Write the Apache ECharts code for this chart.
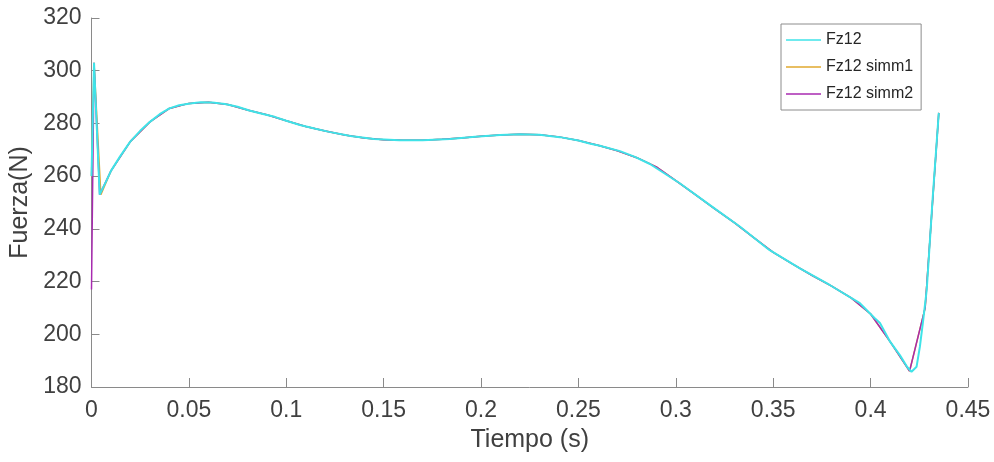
<!DOCTYPE html>
<html>
<head>
<meta charset="utf-8">
<script src="https://cdn.jsdelivr.net/npm/echarts@6/dist/echarts.min.js"></script>
<style>html,body{margin:0;padding:0;background:#fff}#c{width:994px;height:462px}</style>
</head>
<body>
<div id="c"></div>
<script>
// Fz12 (cyan)
var fzT = [0, 0.0013, 0.0042, 0.0075, 0.010, 0.0146, 0.0198, 0.025, 0.030, 0.035, 0.040, 0.045, 0.0506, 0.056, 0.062, 0.0685, 0.075, 0.081, 0.0875, 0.094, 0.100, 0.107, 0.115, 0.122, 0.133, 0.145, 0.158, 0.170, 0.184, 0.197, 0.2097, 0.220, 0.230, 0.2405, 0.250, 0.2557, 0.261, 0.2713, 0.2790, 0.2867, 0.302, 0.3175, 0.333, 0.348, 0.3637, 0.379, 0.3945, 0.402, 0.4048, 0.410, 0.415, 0.4188, 0.421, 0.4236, 0.4253, 0.427, 0.4288, 0.4318, 0.435];
var fzV = [260, 303, 253, 258, 262, 267.4, 273, 277.2, 280.6, 283.5, 285.7, 286.9, 287.6, 288, 287.9, 287.4, 286.3, 284.9, 283.7, 282.5, 281, 279.4, 278, 276.8, 275.2, 274.1, 273.6, 273.6, 274.1, 274.9, 275.6, 275.9, 275.7, 274.8, 273.5, 272.4, 271.5, 269.5, 267.3, 264.6, 257.3, 249, 240.8, 232, 225, 218.7, 211.8, 206.2, 204.3, 197.2, 192.1, 187.6, 185.8, 187.7, 195.3, 205.4, 216.8, 251, 284];

// Fz12 simm1 (orange)
var s1T = [0, 0.0013, 0.0048, 0.01, 0.02, 0.03, 0.04, 0.05, 0.06, 0.07, 0.08, 0.09, 0.10, 0.11, 0.12, 0.13, 0.14, 0.15, 0.16, 0.17, 0.18, 0.19, 0.20, 0.21, 0.22, 0.23, 0.24, 0.25, 0.26, 0.27, 0.28, 0.29, 0.30, 0.31, 0.32, 0.33, 0.34, 0.35, 0.36, 0.37, 0.38, 0.39, 0.40, 0.41, 0.42, 0.428, 0.435];
var s1V = [260, 303, 253, 262, 273.2, 280.6, 285.7, 287.6, 288, 287.2, 285.1, 283.3, 281, 278.8, 277.1, 275.6, 274.5, 273.8, 273.6, 273.6, 274, 274.5, 275.1, 275.6, 275.9, 275.7, 274.9, 273.5, 271.7, 269.6, 267, 263.5, 258.3, 253, 247.6, 242.4, 236.7, 231.1, 226.6, 222.3, 218.3, 213.8, 207.7, 197.2, 186, 210, 284];

// Fz12 simm2 (purple)
var s2T = [0, 0.0013, 0.0042, 0.01, 0.02, 0.03, 0.04, 0.05, 0.06, 0.07, 0.08, 0.09, 0.10, 0.11, 0.12, 0.13, 0.14, 0.15, 0.16, 0.17, 0.18, 0.19, 0.20, 0.21, 0.22, 0.23, 0.24, 0.25, 0.26, 0.27, 0.28, 0.29, 0.30, 0.31, 0.32, 0.33, 0.34, 0.35, 0.36, 0.37, 0.38, 0.39, 0.40, 0.41, 0.42, 0.428, 0.435];
var s2V = [217, 303, 253, 262, 273.2, 280.6, 285.7, 287.6, 288, 287.2, 285.1, 283.3, 281, 278.8, 277.1, 275.6, 274.5, 273.8, 273.6, 273.6, 274, 274.5, 275.1, 275.6, 275.9, 275.7, 274.9, 273.5, 271.7, 269.6, 267, 263.5, 258.3, 253, 247.6, 242.4, 236.7, 231.1, 226.6, 222.3, 218.3, 213.8, 207.7, 197.2, 186, 210, 284];

var seriesNames = ['Fz12', 'Fz12 simm1', 'Fz12 simm2'];
var xTicks = {min: 0, max: 0.45, interval: 0.05};
var yTicks = {min: 180, max: 320, interval: 20};

function pairs(t, v) { return t.map(function (x, i) { return [x, v[i]]; }); }

var FONT = "'Liberation Sans', Arial, Helvetica, sans-serif";
var axisGray = '#8a8a8a';
var txt = '#404040';

var chart = echarts.init(document.getElementById('c'), null, {renderer: 'canvas'});
chart.setOption({
  backgroundColor: '#ffffff',
  animation: false,
  grid: {left: 91.5, right: 26, top: 18, bottom: 75, containLabel: false, outerBoundsMode: 'none'},
  legend: {
    data: seriesNames,
    orient: 'vertical',
    left: 781, top: 24,
    padding: [8, 8, 8, 5],
    icon: 'rect',
    itemWidth: 35, itemHeight: 1.3, itemGap: 11,
    borderColor: '#8c8c8c', borderWidth: 1,
    backgroundColor: '#ffffff',
    textStyle: {fontFamily: FONT, fontSize: 16, lineHeight: 14, color: '#262626'}
  },
  xAxis: {
    type: 'value', min: xTicks.min, max: xTicks.max, interval: xTicks.interval,
    name: 'Tiempo (s)', nameLocation: 'middle', nameGap: 41,
    nameTextStyle: {fontFamily: FONT, fontSize: 25, color: txt},
    axisLine: {show: true, lineStyle: {color: axisGray, width: 1}},
    axisTick: {show: true, inside: true, length: 9, lineStyle: {color: axisGray}},
    axisLabel: {fontFamily: FONT, fontSize: 23, color: txt, margin: 12,
      formatter: function (v) { return String(Math.round(v * 100) / 100); }},
    splitLine: {show: false}
  },
  yAxis: {
    type: 'value', min: yTicks.min, max: yTicks.max, interval: yTicks.interval,
    name: 'Fuerza(N)', nameLocation: 'middle', nameGap: 56, nameRotate: 90,
    nameTextStyle: {fontFamily: FONT, fontSize: 25, color: txt},
    axisLine: {show: true, lineStyle: {color: axisGray, width: 1}},
    axisTick: {show: true, inside: true, length: 8, lineStyle: {color: axisGray}},
    axisLabel: {fontFamily: FONT, fontSize: 23, color: txt, margin: 10},
    splitLine: {show: false}
  },
  series: [
    {name: 'Fz12 simm1', type: 'line', data: pairs(s1T, s1V), symbol: 'none', z: 2,
      lineStyle: {color: '#E0A82E', width: 1.5}, itemStyle: {color: '#E0A82E'}},
    {name: 'Fz12 simm2', type: 'line', data: pairs(s2T, s2V), symbol: 'none', z: 3,
      lineStyle: {color: '#A82AB0', width: 1.5}, itemStyle: {color: '#A82AB0'}},
    {name: 'Fz12', type: 'line', data: pairs(fzT, fzV), symbol: 'none', z: 4,
      lineStyle: {color: '#3FE3E8', width: 2}, itemStyle: {color: '#3FE3E8'}}
  ]
});
</script>
</body>
</html>
